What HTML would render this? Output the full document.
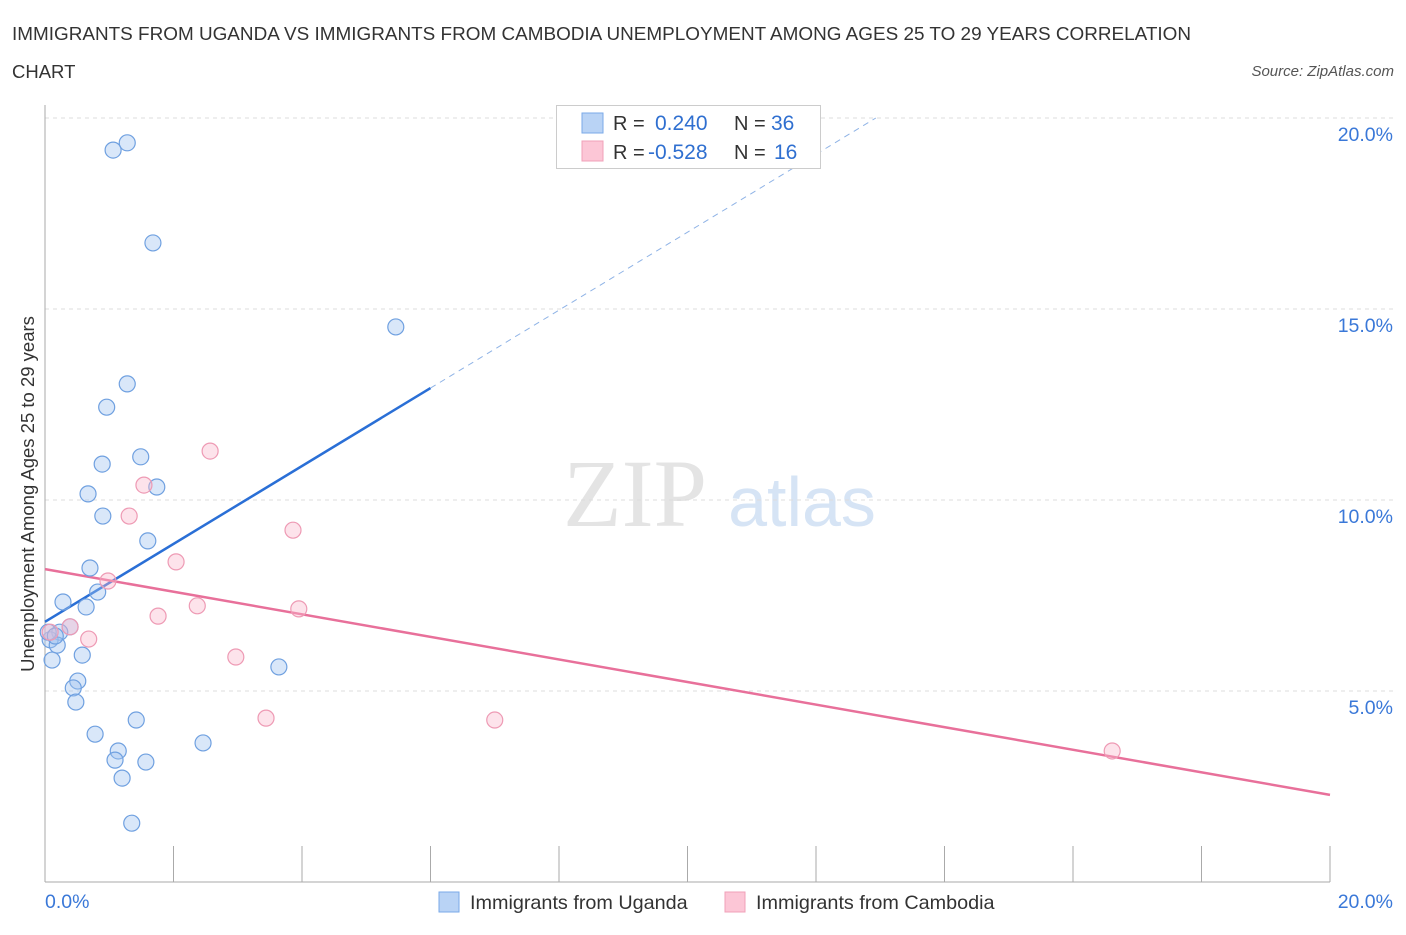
<!DOCTYPE html>
<html><head><meta charset="utf-8"><style>
body{margin:0;background:#fff;font-family:"Liberation Sans",sans-serif;}
svg text{font-family:"Liberation Sans",sans-serif;}
</style></head><body>
<svg id="chart" width="1406" height="930">
<text x="12" y="40" font-size="18.5" fill="#333" textLength="1179" lengthAdjust="spacingAndGlyphs">IMMIGRANTS FROM UGANDA VS IMMIGRANTS FROM CAMBODIA UNEMPLOYMENT AMONG AGES 25 TO 29 YEARS CORRELATION</text>
<text x="12" y="78" font-size="18.5" fill="#333">CHART</text>
<text x="1394" y="76" font-size="15" fill="#555" font-style="italic" text-anchor="end">Source: ZipAtlas.com</text>
<g>
<text x="635" y="526" font-size="96" fill="#e4e4e4" text-anchor="middle" style="font-family:'Liberation Serif',serif">ZIP</text>
<text x="802" y="526" font-size="70" fill="#d6e4f5" text-anchor="middle">atlas</text>
</g>
<text transform="translate(34,494) rotate(-90)" font-size="18.5" fill="#333" text-anchor="middle">Unemployment Among Ages 25 to 29 years</text>
<g id="grid"></g><g id="axes"></g><g id="lines"></g><g id="pts"></g>
<g>
<rect x="556.5" y="105.5" width="264" height="63" fill="#fff" stroke="#ccc"/>
<rect x="582" y="113" width="21" height="20" fill="#b9d3f5" stroke="#7aaae8"/>
<rect x="582" y="141" width="21" height="20" fill="#fcc6d6" stroke="#f0a0b8"/>
<text x="613" y="130" font-size="20" fill="#333">R =</text>
<text x="655" y="130" font-size="21" fill="#2f6fd0">0.240</text>
<text x="734" y="130" font-size="20" fill="#333">N =</text>
<text x="771" y="130" font-size="21" fill="#2f6fd0">36</text>
<text x="613" y="159" font-size="20" fill="#333">R =</text>
<text x="648" y="159" font-size="21" fill="#2f6fd0">-0.528</text>
<text x="734" y="159" font-size="20" fill="#333">N =</text>
<text x="774" y="159" font-size="21" fill="#2f6fd0">16</text>
</g>
<g>
<rect x="439" y="892" width="20" height="20" fill="#b9d3f5" stroke="#7aaae8"/>
<text x="470" y="909" font-size="19.8" fill="#333">Immigrants from Uganda</text>
<rect x="725" y="892" width="20" height="20" fill="#fcc6d6" stroke="#f0a0b8"/>
<text x="756" y="909" font-size="19.8" fill="#333">Immigrants from Cambodia</text>
</g>
</svg>
<script>
const yTicks=[5,10,15,20];
const yTickLabels=["5.0%","10.0%","15.0%","20.0%"];
const ugandaX=[1.06,1.28,1.68,5.46,1.28,0.96,0.89,1.49,1.74,0.67,0.90,1.60,0.70,0.82,0.28,0.64,0.39,0.23,0.08,0.19,0.11,0.58,0.51,0.44,0.48,3.64,1.42,0.78,2.46,1.14,1.09,1.57,1.20,1.35,0.05,0.16];
const ugandaY=[19.16,19.35,16.73,14.53,13.04,12.43,10.94,11.13,10.34,10.16,9.58,8.93,8.22,7.59,7.33,7.20,6.68,6.54,6.34,6.20,5.81,5.94,5.26,5.08,4.71,5.63,4.24,3.87,3.64,3.43,3.19,3.14,2.72,1.54,6.54,6.44];
const cambodiaX=[2.57,1.54,1.31,3.86,2.04,0.98,1.76,2.37,3.95,0.68,0.39,2.97,3.44,7.00,16.61,0.08];
const cambodiaY=[11.28,10.39,9.58,9.21,8.38,7.88,6.96,7.23,7.15,6.36,6.68,5.89,4.29,4.24,3.43,6.54];
const ugandaTrend=[6.81,1.02]; // intercept, slope
const cambodiaTrend=[8.19,-0.2955];
const X=v=>45+v/20*1285, Y=v=>882-v/5*191;
const NS="http://www.w3.org/2000/svg";
function mk(p,t,a){const e=document.createElementNS(NS,t);for(const k in a)e.setAttribute(k,a[k]);document.getElementById(p).appendChild(e);return e;}
yTicks.forEach((t,i)=>{
 const g=mk('grid','line',{x1:45,x2:1394,y1:Y(t),y2:Y(t),stroke:'#ddd','stroke-dasharray':'4,4'});
 
 
 const l=mk('axes','text',{x:1393,y:Y(t)+23,'font-size':19.5,fill:'#3a78d8','text-anchor':'end'});
 l.textContent=yTickLabels[i];
 
 
});
const ax=mk('axes','line',{x1:45,x2:1330,y1:882,y2:882,stroke:'#aaa'});


const ay=mk('axes','line',{x1:45,x2:45,y1:105,y2:882,stroke:'#aaa'});


for(let i=0;i<=10;i++){const t=mk('axes','line',{x1:X(i*2),x2:X(i*2),y1:846,y2:882,stroke:'#aaa'});
 
 }
[["0.0%",45,"start"],["20.0%",1393,"end"]].forEach(d=>{const t=mk('axes','text',{x:d[1],y:908,'font-size':19.5,fill:'#3a78d8','text-anchor':d[2]});t.textContent=d[0];
 
 });
const u1=mk('lines','line',{x1:X(0),y1:Y(ugandaTrend[0]),x2:X(6),y2:Y(ugandaTrend[0]+6*ugandaTrend[1]),stroke:'#2a6fd6','stroke-width':2.5});


const xe=(20-ugandaTrend[0])/ugandaTrend[1];
const u2=mk('lines','line',{x1:X(6),y1:Y(ugandaTrend[0]+6*ugandaTrend[1]),x2:X(xe),y2:Y(20),stroke:'#8fb3e6','stroke-width':1,'stroke-dasharray':'6,5'});


const c1=mk('lines','line',{x1:X(0),y1:Y(cambodiaTrend[0]),x2:X(20),y2:Y(cambodiaTrend[0]+20*cambodiaTrend[1]),stroke:'#e8709a','stroke-width':2.5});


ugandaX.forEach((v,i)=>{const c=mk('pts','circle',{cx:X(v),cy:Y(ugandaY[i]),r:8,fill:'rgba(160,195,240,0.4)',stroke:'#6fa0e0','stroke-width':1.2});
 
 });
cambodiaX.forEach((v,i)=>{const c=mk('pts','circle',{cx:X(v),cy:Y(cambodiaY[i]),r:8,fill:'rgba(250,185,205,0.4)',stroke:'#ee9ab4','stroke-width':1.2});
 
 });
</script>
</body></html>
